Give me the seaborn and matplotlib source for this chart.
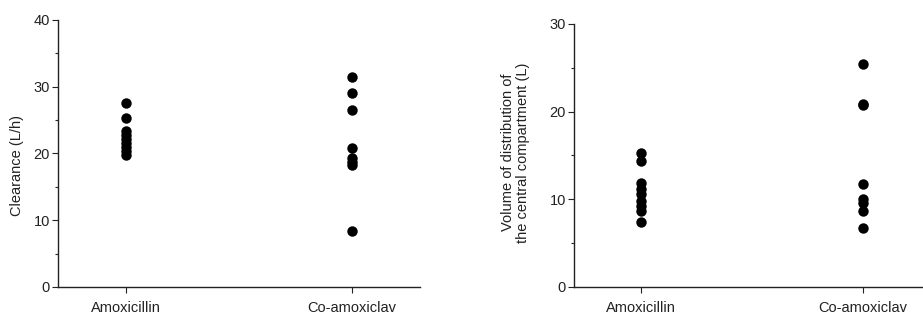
import numpy as np
import pandas as pd
import seaborn as sns
import matplotlib.pyplot as plt
from matplotlib.ticker import MultipleLocator

sns.set_style('ticks')
plt.rcParams['font.family'] = ['Liberation Sans', 'DejaVu Sans']

groups = ['Amoxicillin', 'Co-amoxiclav']

# clearance (L/h)
cl_amox = [27.6, 25.3, 23.3, 22.7, 22.1, 21.5, 20.9, 20.3, 19.8]
cl_coam = [31.5, 29.0, 26.5, 20.8, 19.3, 18.7, 18.3, 8.4]

# volume of distribution, central compartment (L)
vc_amox = [15.3, 14.4, 11.8, 11.2, 10.6, 9.8, 9.2, 8.7, 7.4]
vc_coam = [25.4, 20.9, 20.7, 11.7, 10.0, 9.6, 8.7, 6.7]

cl = pd.DataFrame({'group': [groups[0]]*len(cl_amox) + [groups[1]]*len(cl_coam),
                   'value': cl_amox + cl_coam})
vc = pd.DataFrame({'group': [groups[0]]*len(vc_amox) + [groups[1]]*len(vc_coam),
                   'value': vc_amox + vc_coam})

fig = plt.figure(figsize=(9.23, 3.22), dpi=100)
ax1 = fig.add_axes([0.063, 0.109, 0.392, 0.829])
ax2 = fig.add_axes([0.622, 0.109, 0.385, 0.817])

for ax, df, ymax, label in [(ax1, cl, 40, 'Clearance (L/h)'),
                            (ax2, vc, 30, 'Volume of distribution of\nthe central compartment (L)')]:
    sns.stripplot(data=df, x='group', y='value', order=groups, jitter=False,
                  color='black', size=7.5, linewidth=0, ax=ax, clip_on=False)
    ax.set_xlim(-0.3, 1.3)
    ax.set_ylim(0, ymax)
    ax.yaxis.set_major_locator(MultipleLocator(10))
    ax.yaxis.set_minor_locator(MultipleLocator(5))
    ax.tick_params(axis='both', which='major', length=4, width=0.8, labelsize=10.5,
                   colors='#222222', pad=2)
    ax.tick_params(axis='x', pad=6)
    ax.tick_params(axis='y', which='minor', length=2.5, width=0.8)
    ax.set_xlabel('')
    ax.set_ylabel(label, fontsize=10.5, color='#222222', linespacing=1.1)
    for side in ['left', 'bottom']:
        ax.spines[side].set_linewidth(1.0)
        ax.spines[side].set_color('#222222')
    sns.despine(ax=ax)

ax1.yaxis.set_label_coords(-0.094, 0.455)
ax2.yaxis.set_label_coords(-0.124, 0.51)

fig.savefig('out.png', dpi=100)
